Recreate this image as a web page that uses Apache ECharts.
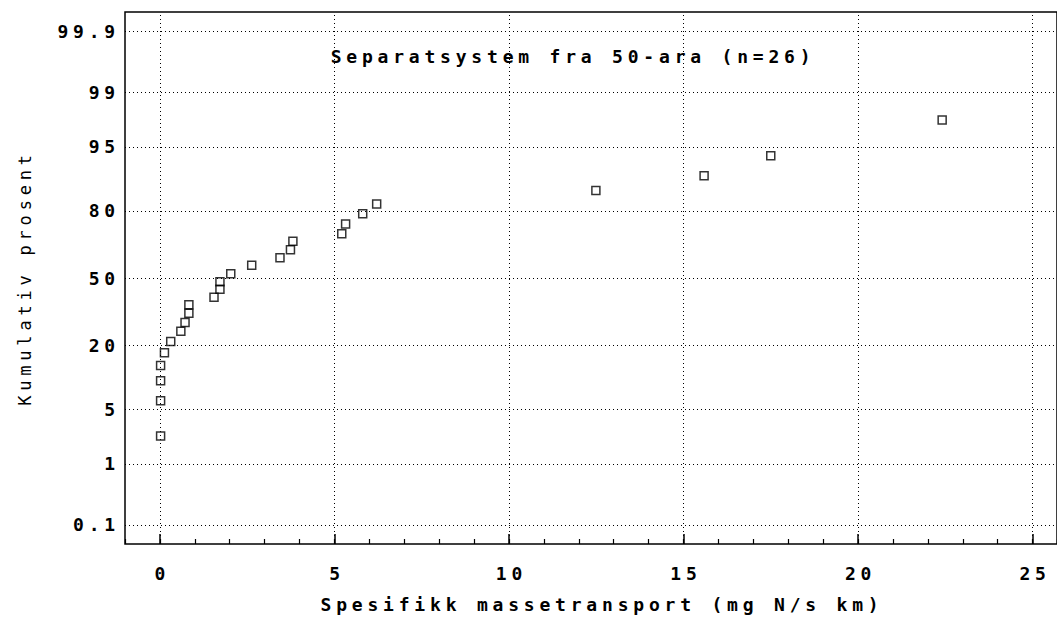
<!DOCTYPE html>
<html>
<head>
<meta charset="utf-8">
<script src="https://cdn.jsdelivr.net/npm/echarts@6/dist/echarts.min.js"></script>
<style>
html, body { margin: 0; padding: 0; background: #fff; }
#chart { width: 1057px; height: 623px; letter-spacing: 4.8px; }
</style>
</head>
<body>
<div id="chart"></div>
<script>
// ---- data ----
const chartTitle = 'Separatsystem fra 50-ara (n=26)';
const xName = 'Spesifikk massetransport (mg N/s km)';
const yName = 'Kumulativ prosent';
const xTickValues = [0, 5, 10, 15, 20, 25];
const yTickPercents = [0.1, 1, 5, 20, 50, 80, 95, 99, 99.9];
const yTickLabels = ['0.1', '1', '5', '20', '50', '80', '95', '99', '99.9'];
// specific mass transport (mg N/s km), sorted
const transport = [0.02, 0.02, 0.02, 0.02, 0.13, 0.31, 0.60, 0.72, 0.83, 0.83,
                   1.55, 1.72, 1.72, 2.03, 2.63, 3.44, 3.74, 3.81, 5.21, 5.32,
                   5.81, 6.21, 12.49, 15.59, 17.50, 22.41];
// cumulative percent (plotting position)
const cumPercent = [2.4, 6.2, 9.9, 13.7, 17.5, 21.3, 25.3, 28.9, 33.0, 36.9,
                    40.5, 44.4, 48.1, 52.1, 56.4, 60.0, 63.8, 67.7, 71.0, 75.0,
                    78.9, 82.3, 86.3, 90.0, 93.7, 97.6];

// normal probability (probit) transform for the y scale
function probit(p) {
  const a = [-3.969683028665376e+01, 2.209460984245205e+02, -2.759285104469687e+02, 1.383577518672690e+02, -3.066479806614716e+01, 2.506628277459239e+00];
  const b = [-5.447609879822406e+01, 1.615858368580409e+02, -1.556989798598866e+02, 6.680131188771972e+01, -1.328068155288572e+01];
  const c = [-7.784894002430293e-03, -3.223964580411365e-01, -2.400758277161838e+00, -2.549732539343734e+00, 4.374664141464968e+00, 2.938163982698783e+00];
  const d = [7.784695709041462e-03, 3.224671290700398e-01, 2.445134137142996e+00, 3.754408661907416e+00];
  const pl = 0.02425, ph = 1 - pl;
  let q, r;
  if (p < pl) {
    q = Math.sqrt(-2 * Math.log(p));
    return (((((c[0]*q+c[1])*q+c[2])*q+c[3])*q+c[4])*q+c[5]) / ((((d[0]*q+d[1])*q+d[2])*q+d[3])*q+1);
  }
  if (p <= ph) {
    q = p - 0.5; r = q * q;
    return (((((a[0]*r+a[1])*r+a[2])*r+a[3])*r+a[4])*r+a[5])*q / (((((b[0]*r+b[1])*r+b[2])*r+b[3])*r+b[4])*r+1);
  }
  q = Math.sqrt(-2 * Math.log(1 - p));
  return -(((((c[0]*q+c[1])*q+c[2])*q+c[3])*q+c[4])*q+c[5]) / ((((d[0]*q+d[1])*q+d[2])*q+d[3])*q+1);
}

const yTickValues = yTickPercents.map(p => probit(p / 100));
const points = transport.map((x, i) => [x, probit(cumPercent[i] / 100)]);

const FONT = 'DejaVu Sans Mono';
const FS = 18;
const gridLineStyle = { type: [1, 3], color: '#000', width: 1 };

const chart = echarts.init(document.getElementById('chart'), null, { renderer: 'svg' });
chart.setOption({
  animation: false,
  backgroundColor: '#fff',
  grid: { left: 125, top: 12, right: -2, bottom: 79, show: true, borderColor: '#000', borderWidth: 1.5, backgroundColor: 'transparent' },
  graphic: [{
    type: 'text', x: 573, y: 56, silent: true,
    style: { text: chartTitle, fill: '#000', fontFamily: FONT, fontSize: FS, fontWeight: 'bold',
             textAlign: 'center', textVerticalAlign: 'middle', verticalAlign: 'middle' }
  }],
  xAxis: [{
    type: 'value', min: -1, max: 25.7, position: 'bottom',
    axisLine: { show: false, onZero: false },
    splitLine: { show: false },
    axisTick: { show: true, inside: true, length: 10, customValues: xTickValues, lineStyle: { color: '#000', width: 1.5 } },
    axisLabel: { customValues: xTickValues, margin: 20, color: '#000', fontFamily: FONT, fontSize: FS, fontWeight: 'bold', padding: [0, 0, 0, 5] },
    name: xName, nameLocation: 'middle', nameGap: 51,
    nameTextStyle: { color: '#000', fontFamily: FONT, fontSize: FS, fontWeight: 'bold', padding: [0, 0, 0, 22] }
  }, {
    type: 'value', min: -1, max: 25.7, interval: 1, position: 'bottom',
    axisLine: { show: false, onZero: false }, splitLine: { show: false }, axisLabel: { show: false },
    axisTick: { show: true, inside: true, length: 5, lineStyle: { color: '#000', width: 1.2 } }
  }],
  yAxis: {
    type: 'value', min: -3.33, max: 3.33,
    axisLine: { show: false, onZero: false }, axisTick: { show: false }, splitLine: { show: false },
    axisLabel: {
      customValues: yTickValues, margin: 5, color: '#000', fontFamily: FONT, fontSize: FS, fontWeight: 'bold',
      formatter: function (v) {
        let best = 0;
        for (let i = 1; i < yTickValues.length; i++) {
          if (Math.abs(yTickValues[i] - v) < Math.abs(yTickValues[best] - v)) best = i;
        }
        return yTickLabels[best];
      }
    },
    name: yName, nameLocation: 'middle', nameGap: 92,
    nameTextStyle: { color: '#000', fontFamily: FONT, fontSize: 17, fontWeight: 'normal' }
  },
  series: [{
    type: 'scatter', xAxisIndex: 0, yAxisIndex: 0,
    data: points,
    symbol: 'rect', symbolSize: 8,
    itemStyle: { color: 'rgba(0,0,0,0)', borderColor: '#000', borderWidth: 1.5 },
    markLine: {
      silent: true, symbol: ['none', 'none'], label: { show: false },
      lineStyle: gridLineStyle, emphasis: { disabled: true },
      data: xTickValues.map(v => ({ xAxis: v })).concat(yTickValues.map(v => ({ yAxis: v })))
    }
  }]
});
</script>
</body>
</html>
